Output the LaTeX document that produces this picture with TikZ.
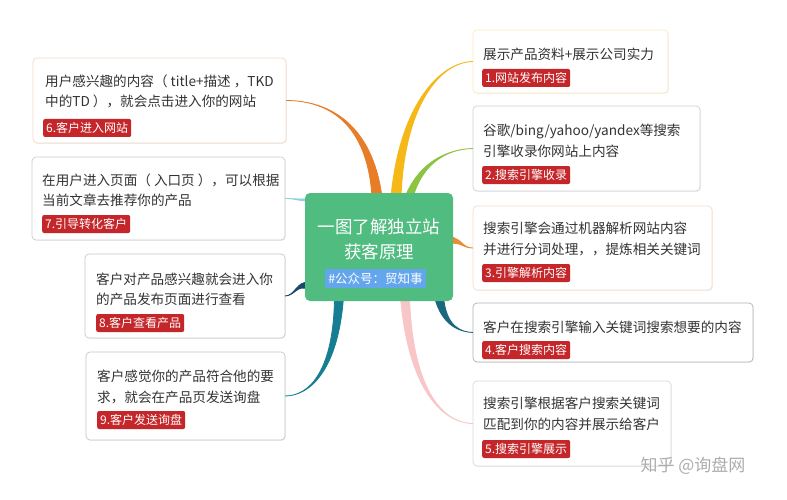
\documentclass[tikz,border=0pt]{standalone}
\usepackage{fontspec}
\newfontfamily\cjk{Noto Sans CJK SC}
\usetikzlibrary{calc,shadows}
\definecolor{cgreen}{RGB}{80,188,128}
\definecolor{subblue}{RGB}{100,166,236}
\definecolor{labred}{RGB}{196,38,42}
\definecolor{txtgray}{RGB}{51,51,51}
\definecolor{cOrangeA}{RGB}{232,125,40}
\definecolor{cYellow}{RGB}{246,184,22}
\definecolor{cGreen}{RGB}{140,195,64}
\definecolor{cOrangeB}{RGB}{233,140,50}
\definecolor{cTealA}{RGB}{26,104,128}
\definecolor{cPink}{RGB}{248,198,198}
\definecolor{cLBlue}{RGB}{140,208,226}
\definecolor{cNavy}{RGB}{24,72,108}
\definecolor{cTealB}{RGB}{22,126,146}
\newcommand{\taper}[7]{%
  \filldraw[#1,line width=0.8pt] ($(#2)+(-#6,-#7)$) .. controls ($(#3)+(-#6*0.5,-#7*0.5)$) and (#4) .. (#5) .. controls (#4) and ($(#3)+(#6*0.5,#7*0.5)$) .. ($(#2)+(#6,#7)$) -- cycle;}
\tikzset{
  infobox/.style={draw=#1, line width=0.7pt, fill=white, rounded corners=4pt, outer sep=0pt, inner sep=0pt,
    drop shadow={opacity=0.12, shadow xshift=0.8pt, shadow yshift=-0.8pt}},
  bodytext/.style={anchor=west, align=left, inner sep=0pt, text=txtgray, font=\cjk\fontsize{13.6}{20.5}\selectfont},
  steplabel/.style={anchor=west, fill=labred, text=white, rounded corners=2pt, inner xsep=3pt, inner ysep=1pt,
    minimum height=18pt, font=\cjk\fontsize{12}{12}\selectfont},
}
\begin{document}
\begin{tikzpicture}[x=1pt,y=-1pt]
\useasboundingbox (0,0) rectangle (787,500);
\fill[white] (0,0) rectangle (787,500);

% boxes
\node[infobox=black!15!cOrangeA!25, minimum width=253, minimum height=85] (b6) at (159.5,100.5) {};
\node[infobox=black!20, minimum width=253, minimum height=83] (b7) at (158.5,198.5) {};
\node[infobox=black!22, minimum width=200, minimum height=84] (b8) at (185,296) {};
\node[infobox=black!22, minimum width=199, minimum height=88] (b9) at (185.5,396) {};
\node[infobox=cYellow!30, minimum width=195, minimum height=63] (b1) at (570.5,61.5) {};
\node[infobox=black!18, minimum width=227, minimum height=85] (b2) at (586.5,148.5) {};
\node[infobox=black!15!cOrangeB!25, minimum width=239, minimum height=84] (b3) at (592.5,248) {};
\node[infobox=black!30, minimum width=280, minimum height=59] (b4) at (613,332.5) {};
\node[infobox=black!15, minimum width=198, minimum height=85] (b5) at (572,423.5) {};

% center node (for anchors)
\path (379,247) node[minimum width=148, minimum height=108, inner sep=0pt, outer sep=0pt] (ctr) {};

% branch coordinates
\coordinate (s6) at ($(ctr.north west)+(72,4)$);
\coordinate (s1) at ($(ctr.north west)+(91,4)$);
\coordinate (s2) at ($(ctr.north west)+(104,4)$);
\coordinate (s3) at ($(ctr.north east)+(-4,47)$);
\coordinate (s4) at ($(ctr.south east)+(-14,-4)$);
\coordinate (s5) at ($(ctr.south west)+(100,-4)$);
\coordinate (s9) at ($(ctr.south west)+(34,-4)$);
\coordinate (s8) at ($(ctr.south west)+(4,-15)$);
\coordinate (s7) at ($(ctr.north west)+(4,7)$);

\taper{cOrangeA}{s6}{370,125}{330,100.5}{b6.east}{5}{0}
\taper{cYellow}{s1}{402,105}{440,62}{b1.west}{5}{0}
\taper{cGreen}{s2}{422,160}{450,149}{b2.west}{4}{0}
\taper{cOrangeB}{s3}{462,240}{462,248}{b3.west}{0}{3.5}
\taper{cTealA}{s4}{444,326}{460,332}{b4.west}{4.5}{0}
\taper{cPink}{s5}{410,385}{440,423}{b5.west}{4.5}{0}
\taper{cTealB}{s9}{336,370}{310,396}{b9.east}{4.5}{0}
\taper{cNavy}{s8}{297,282}{295,296}{b8.east}{0}{3.5}
\taper{cLBlue}{s7}{297,200}{295,198.5}{b7.east}{0}{1.2}

% center node drawn on top
\node[fill=cgreen, rounded corners=5pt, minimum width=148, minimum height=108, inner sep=0pt, outer sep=0pt] (ctrbox) at (ctr.center) {};
\node[align=center, text=white, inner sep=0pt, font=\cjk\fontsize{17.5}{25}\selectfont] (title) at (379,239.5) {一图了解独立站\\获客原理};
\node[fill=subblue, text=white, inner xsep=3pt, inner ysep=1pt, minimum height=19pt, font=\cjk\fontsize{12.5}{12.5}\selectfont] (sub) at (375.5,278.5) {\#公众号：贸知事};

% texts left
\node[bodytext] (t6) at (45,91.5) {用户感兴趣的内容（ title+描述 ，TKD\\中的TD ），就会点击进入你的网站};
\node[steplabel] (l6) at (43,128) {6.客户进入网站};
\node[bodytext] (t7) at (42,190.5) {在用户进入页面（ 入口页 ），可以根据\\当前文章去推荐你的产品};
\node[steplabel] (l7) at (42,224) {7.引导转化客户};
\node[bodytext] (t8) at (96,289.5) {客户对产品感兴趣就会进入你\\的产品发布页面进行查看};
\node[steplabel] (l8) at (96,323) {8.客户查看产品};
\node[bodytext] (t9) at (97,387) {客户感觉你的产品符合他的要\\求，就会在产品页发送询盘};
\node[steplabel] (l9) at (97,420) {9.客户发送询盘};

% texts right
\node[bodytext] (t1) at (483,54) {展示产品资料+展示公司实力};
\node[steplabel] (l1) at (482,78) {1.网站发布内容};
\node[bodytext] (t2) at (483,141) {谷歌/bing/yahoo/yandex等搜索\\引擎收录你网站上内容};
\node[steplabel] (l2) at (482,175) {2.搜索引擎收录};
\node[bodytext] (t3) at (483,239) {搜索引擎会通过机器解析网站内容\\并进行分词处理，，提炼相关关键词};
\node[steplabel] (l3) at (482,273) {3.引擎解析内容};
\node[bodytext] (t4) at (483,327) {客户在搜索引擎输入关键词搜索想要的内容};
\node[steplabel] (l4) at (482,350) {4.客户搜索内容};
\node[bodytext] (t5) at (483,414) {搜索引擎根据客户搜索关键词\\匹配到你的内容并展示给客户};
\node[steplabel] (l5) at (482,449) {5.搜索引擎展示};

% watermark
\node[text=black!32, inner sep=0pt, font=\cjk\fontsize{17}{17}\selectfont] (wm) at (693,466) {知乎 @询盘网};
\end{tikzpicture}
\end{document}
